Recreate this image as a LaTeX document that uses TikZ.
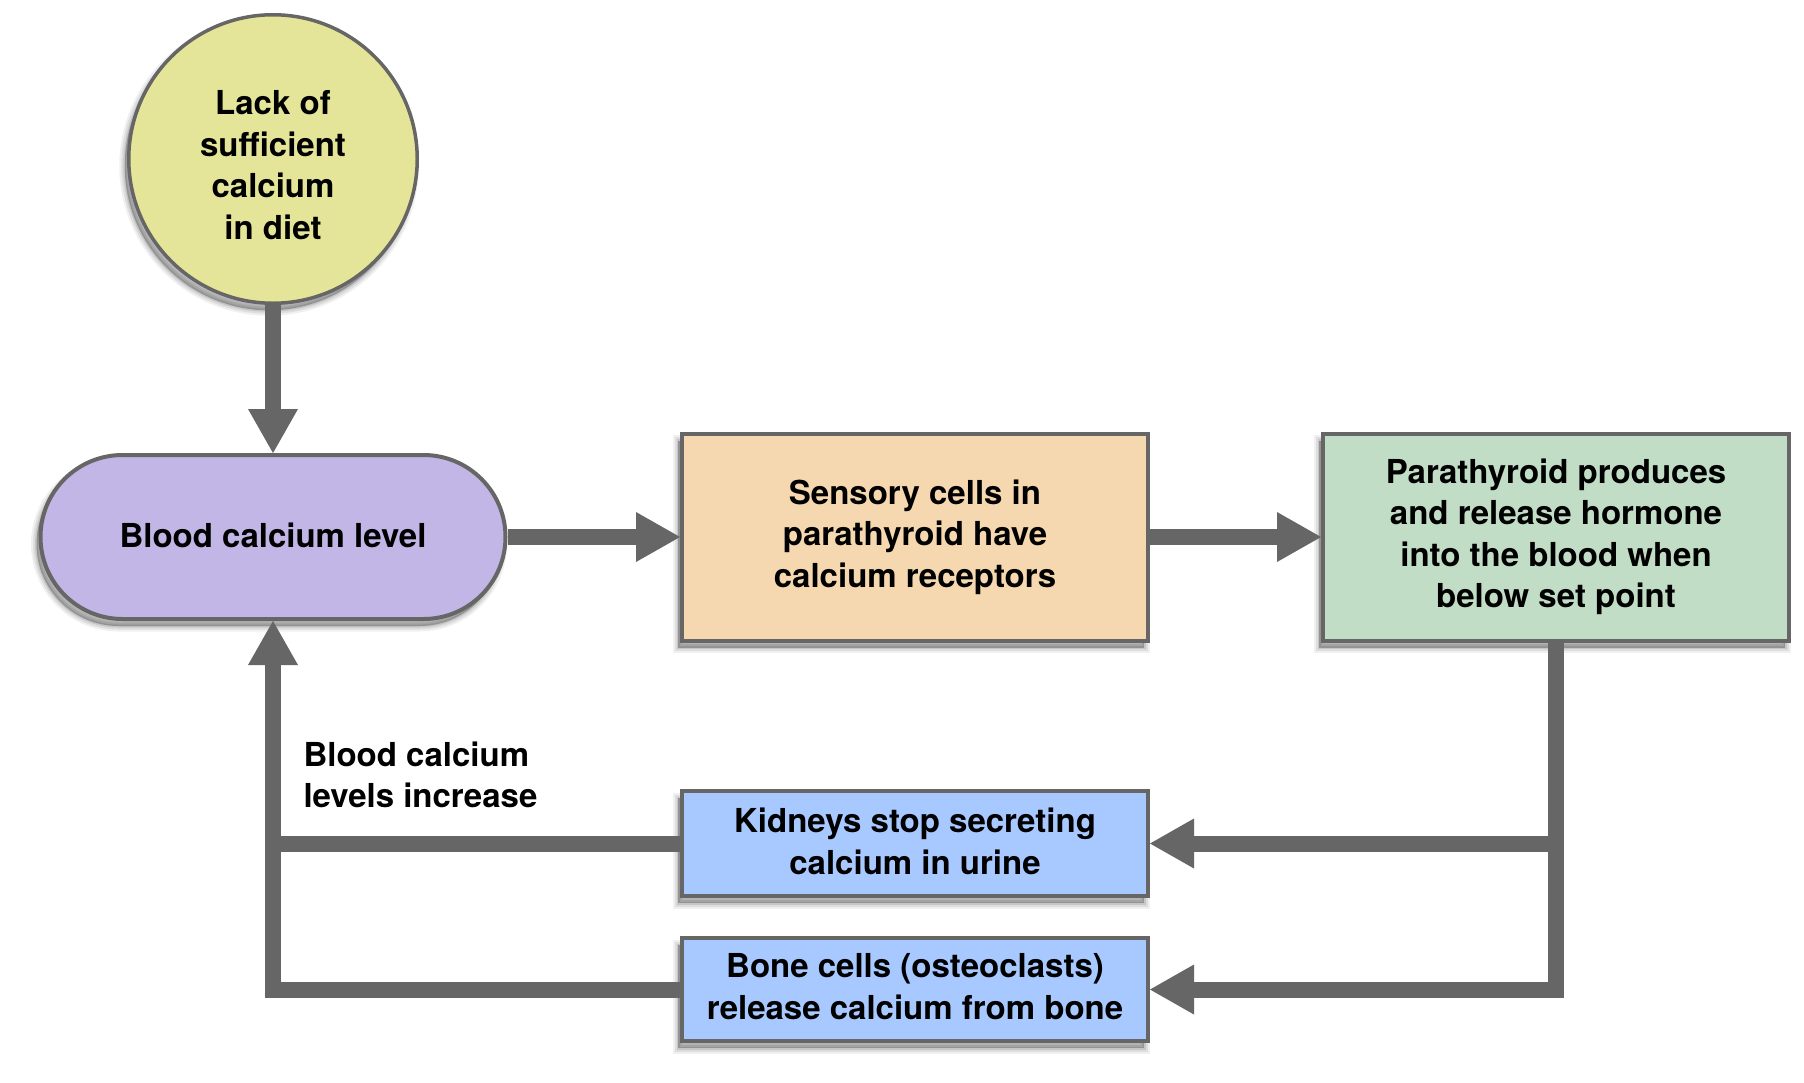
\documentclass[tikz,border=0pt]{standalone}
\usepackage{fontspec}
\setmainfont{TeX Gyre Heros}
\usetikzlibrary{arrows.meta,shadows}
\definecolor{cgray}{HTML}{666666}
\definecolor{cyellow}{RGB}{229,229,153}
\definecolor{clav}{RGB}{193,182,229}
\definecolor{corange}{RGB}{245,215,176}
\definecolor{cgreen}{RGB}{193,221,198}
\definecolor{cblue}{RGB}{168,201,255}
\tikzset{
  softshadow/.style={
    general shadow={shadow xshift=-4pt, shadow yshift=-7pt, fill=black, fill opacity=0.25, draw=black, draw opacity=0.06, line width=11pt},
    general shadow={shadow xshift=-4pt, shadow yshift=-7pt, draw=black, draw opacity=0.08, line width=7pt},
    general shadow={shadow xshift=-4pt, shadow yshift=-7pt, draw=black, draw opacity=0.1, line width=3pt}
  },
  txt/.style={font=\fontsize{33}{41.5}\selectfont\bfseries, align=center, text=black},
  shapebox/.style={txt, draw=cgray, line width=4pt, inner sep=0pt, softshadow},
  sqbox/.style={shapebox, rectangle, minimum width=466pt},
  conn/.style={draw=cgray, line width=16pt, line join=miter, line cap=butt},
  arr/.style={conn, -{Triangle[width=50pt, length=44pt, line width=0pt]}}
}
\begin{document}
\begin{tikzpicture}[x=1pt, y=-1pt]
\useasboundingbox (0,0) rectangle (1804,1082);
\fill[white] (0,0) rectangle (1804,1082);

\node[shapebox, circle, fill=cyellow, line width=3.5pt, minimum size=288.5pt] (lack) at (273,159) {\rule{0pt}{36pt}Lack of\\sufficient\\calcium\\in diet};
\node[shapebox, rectangle, rounded corners=82pt, fill=clav, minimum width=465pt, minimum height=164pt] (blood) at (273,537) {Blood calcium level\rule[-4pt]{0pt}{4pt}};
\node[sqbox, fill=corange, minimum height=207pt] (sens) at (915,537) {Sensory cells in\\parathyroid have\\calcium receptors};
\node[sqbox, fill=cgreen, minimum height=207pt] (para) at (1556,537) {Parathyroid produces\\and release hormone\\into the blood when\\below set point};
\node[sqbox, fill=cblue, minimum height=105pt] (kid) at (915,843.5) {Kidneys stop secreting\\calcium in urine\rule[-5pt]{0pt}{5pt}};
\node[sqbox, fill=cblue, minimum height=103pt] (bone) at (915,989.5) {Bone cells (osteoclasts)\\release calcium from bone\rule[-6pt]{0pt}{6pt}};

\node[txt, align=left, anchor=west] (incr) at (300,775) {Blood calcium\\levels increase};

\draw[arr] (lack.south) -- (blood.north);
\draw[arr] (blood.east) -- (sens.west);
\draw[arr] (sens.east) -- (para.west);
\draw[arr] (para.south) |- (bone.east);
\draw[arr] (kid.east -| para.south) -- (kid.east);
\draw[arr] (bone.west) -| (blood.south);
\draw[conn] (kid.west) -- (kid.west -| blood.south);
\end{tikzpicture}
\end{document}
